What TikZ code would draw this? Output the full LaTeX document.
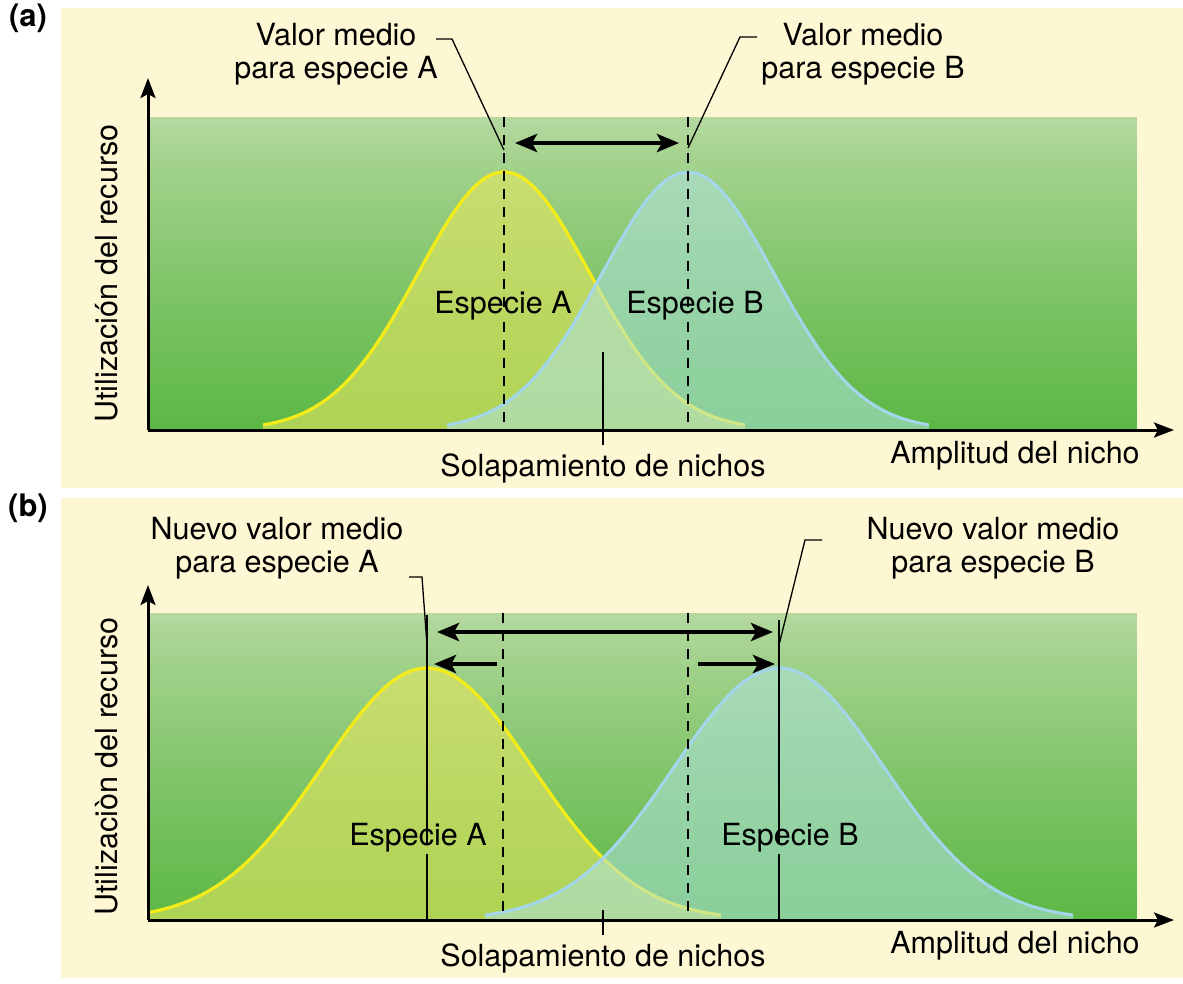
\documentclass[tikz,border=0pt]{standalone}
\usepackage{fontspec}
\setmainfont{TeX Gyre Heros}
\usetikzlibrary{arrows.meta}
\definecolor{nichecream}{HTML}{FEF7D4}
\definecolor{nichegrtop}{HTML}{B6D9A0}
\definecolor{nichegrbot}{HTML}{5DB846}
\definecolor{nicheyellow}{HTML}{F4EC1A}
\definecolor{nicheblue}{HTML}{A3D6EA}
\definecolor{nichefilla}{HTML}{E6E660}
\definecolor{nichefillb}{HTML}{B0E2E0}

\begin{document}
\begin{tikzpicture}[x=1pt, y=-1pt, font=\fontsize{30.5}{33}\selectfont,
    axis/.style={line width=3pt, -{Stealth[length=20pt,width=15pt,inset=4pt]}},
    shiftone/.style={line width=4.5pt, -{Stealth[length=22pt,width=18pt,inset=5pt]}},
    shiftboth/.style={line width=4.5pt,
      {Stealth[length=22pt,width=18pt,inset=5pt]}-{Stealth[length=22pt,width=18pt,inset=5pt]}},
    meanline/.style={line width=2pt, dash pattern=on 10pt off 8pt},
    newmean/.style={line width=1.8pt},
    lead/.style={line width=1.3pt},
    curvea/.style={nicheyellow, line width=3.2pt},
    curveb/.style={nicheblue, line width=3pt},
    lbl/.style={inner sep=2pt, align=center},
    word/.style={inner sep=2pt, anchor=base}]

\useasboundingbox (0,0) rectangle (1183,983);
\fill[white] (0,0) rectangle (1183,983);

% --- both panels -- name/base y/green top/axis tip/mean A/mean B/sigma/height/
%     label A x/label B x/label baseline/overlap tick top/axis label ----------
\foreach \pan/\by/\gy/\ty/\ma/\mb/\sig/\ht/\lax/\lbx/\ly/\ot/\ylab in {%
    a/430/117/78/504/688/86/258/503/695/313/352/{Utilización del recurso},
    b/920/613/585/427/779/105/252/418/790/845/910/{Utilizaciòn del recurso}}
{
  \fill[nichecream] (61,\by-422) rectangle (1183,\by+58);
  % green field, light at the top
  \pgfmathsetmacro{\stp}{(\by-\gy)/60}
  \foreach \i in {0,...,59}{
    \pgfmathsetmacro{\p}{100*(\i/59)^0.8}
    \fill[nichegrbot!\p!nichegrtop] (148,\gy+\i*\stp) rectangle (1137,{min(\by,\gy+(\i+1)*\stp+0.8)});
  }

  \pgfmathsetmacro{\loa}{max(150,\ma-2.8*\sig)}
  \pgfmathsetmacro{\hia}{\ma+2.8*\sig}
  \pgfmathsetmacro{\lob}{\mb-2.8*\sig}
  \pgfmathsetmacro{\hib}{min(1135,\mb+2.8*\sig)}
  \fill[nichefilla, fill opacity=0.6] (\loa,\by) --
    plot[domain=\loa:\hia, samples=90] (\x,{\by-\ht*exp(-0.5*((\x-\ma)/\sig)^2)})
    -- (\hia,\by) -- cycle;
  \draw[curvea] plot[domain=\loa:\hia, samples=90]
    (\x,{\by-\ht*exp(-0.5*((\x-\ma)/\sig)^2)});
  \fill[nichefillb, fill opacity=0.55] (\lob,\by) --
    plot[domain=\lob:\hib, samples=90] (\x,{\by-\ht*exp(-0.5*((\x-\mb)/\sig)^2)})
    -- (\hib,\by) -- cycle;
  \draw[curveb] plot[domain=\lob:\hib, samples=90]
    (\x,{\by-\ht*exp(-0.5*((\x-\mb)/\sig)^2)});

  \coordinate (o\pan) at (148,\by);
  \coordinate (ytip\pan) at (148,\ty);
  \coordinate (xtip\pan) at (1174,\by);
  \draw[axis] (o\pan) -- (ytip\pan);
  \draw[axis] (o\pan) -- (xtip\pan);

  \node[word, font=\fontsize{31}{33}\bfseries] (tag\pan) at (28,\by-404) {(\pan)};
  \node[inner sep=2pt, rotate=90] (ylab\pan) at (118,{(\gy+\by)/2}) {\ylab};
  \node[word] (spA\pan) at (\lax,\ly) {Especie A};
  \node[word] (spB\pan) at (\lbx,\ly) {Especie B};
  \node[word] (sol\pan) at (603,\by+46) {Solapamiento de nichos};
  \node[word] (amp\pan) at (1015,\by+33) {Amplitud del nicho};

  \coordinate (ov\pan) at (603,\ot);
  \draw[lead, line width=1.6pt] (ov\pan) -- (ov\pan |- 0,\by+15);
}

% --- (a): the two means and their distance -----------------------------------
\coordinate (mAtop) at (504,117);
\coordinate (mAbot) at (504,430);
\coordinate (mBtop) at (688,117);
\coordinate (mBbot) at (688,430);
\draw[meanline] (mAtop) -- (mAtop |- spAa.north);
\draw[meanline] (spAa.south -| mAtop) -- (mAbot);
\draw[meanline] (mBtop) -- (mBtop |- spBa.north);
\draw[meanline] (spBa.south -| mBtop) -- (mBbot);

\coordinate (gapA) at (515,143);
\coordinate (gapB) at (679,143);
\draw[shiftboth] (gapA) -- (gapB);

\node[lbl] (valA) at (336,54) {Valor medio\\para especie A};
\node[lbl] (valB) at (863,54) {Valor medio\\para especie B};
\coordinate (ldA) at (436,39);
\coordinate (ldB) at (757,37);
\coordinate (mAlead) at (504,150);
\coordinate (mBlead) at (688,148);
\draw[lead] (ldA) -- ++(16,0) -- (mAlead);
\draw[lead] (mBlead) -- ++(52,-111) -- (ldB);

% --- (b): old means dashed, new means solid, the shift ----------------------
\coordinate (oAtop) at (503,613);
\coordinate (oAbot) at (503,920);
\coordinate (oBtop) at (688,613);
\coordinate (oBbot) at (688,920);
\draw[meanline] (oAtop) -- (oAbot);
\draw[meanline] (oBtop) -- (oBbot);

\coordinate (nAtop) at (427,615);
\coordinate (nAbot) at (427,920);
\coordinate (nBtop) at (779,620);
\coordinate (nBbot) at (779,920);
\draw[newmean] (nAtop) -- (nAtop |- spAb.north);
\draw[newmean] (spAb.south -| nAtop) -- (nAbot);
\draw[newmean] (nBtop) -- (nBtop |- spBb.north);
\draw[newmean] (spBb.south -| nBtop) -- (nBbot);

\coordinate (wideA) at (437,632);
\coordinate (wideB) at (773,632);
\draw[shiftboth] (wideA) -- (wideB);
\coordinate (pushA) at (497,664);
\coordinate (pushB) at (698,664);
\draw[shiftone] (pushA) -- (434,664);
\draw[shiftone] (pushB) -- (775,664);

\node[lbl] (nvA) at (277,548) {Nuevo valor medio\\para especie A};
\node[lbl] (nvB) at (993,548) {Nuevo valor medio\\para especie B};
\coordinate (ldAb) at (409,577);
\coordinate (ldBb) at (822,540);
\coordinate (nAlead) at (427,645);
\coordinate (nBlead) at (779,645);
\draw[lead] (ldAb) -- ++(13,0) -- (nAlead);
\draw[lead] (nBlead) -- ++(26,-105) -- (ldBb);
\end{tikzpicture}
\end{document}
